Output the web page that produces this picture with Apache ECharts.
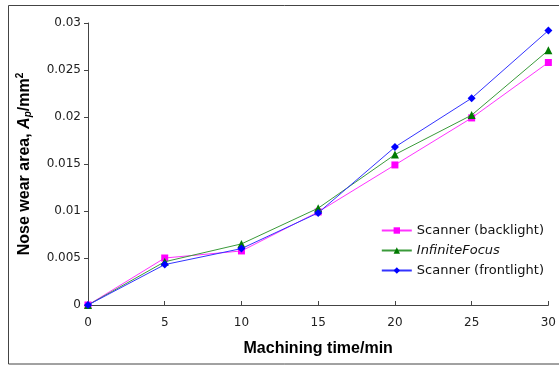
<!DOCTYPE html>
<html><head><meta charset="utf-8">
<script src="https://cdn.jsdelivr.net/npm/echarts@6/dist/echarts.min.js"></script>
<style>html,body{margin:0;padding:0;background:#fff}#c{width:559px;height:368px}</style>
</head><body><div id="c"></div>
<script>
var times = [0, 5, 10, 15, 20, 25, 30];
var backlight = [0, 0.0050, 0.00575, 0.0099, 0.0149, 0.0199, 0.0258];
var infiniteFocus = [0, 0.0046, 0.0065, 0.0103, 0.0160, 0.0202, 0.0271];
var frontlight = [0, 0.0043, 0.0060, 0.0098, 0.0168, 0.0220, 0.0292];
var seriesNames = ['Scanner (backlight)', 'InfiniteFocus', 'Scanner (frontlight)'];

function pairs(arr){ return times.map(function(t,i){ return [t, arr[i]]; }); }

var chart = echarts.init(document.getElementById('c'));
var font = 'Arial, "Liberation Sans", sans-serif';
var wide = '"DejaVu Sans", Arial, sans-serif';
chart.setOption({
  animation: false,
  backgroundColor: '#fff',
  graphic: [{
    type: 'rect', shape: {x: 8.5, y: 5.5, width: 560, height: 358.5},
    style: {fill: 'none', stroke: '#444', lineWidth: 1}, silent: true
  }],
  grid: {left: 88, right: 7, top: 23, bottom: 63},
  legend: {
    orient: 'vertical', right: 10, top: 219, itemGap: 7,
    itemWidth: 30, itemHeight: 8,
    textStyle: {fontFamily: wide, fontSize: 13, color: '#111'},
    data: [
      {name: seriesNames[0]},
      {name: seriesNames[1], textStyle: {fontStyle: 'italic'}},
      {name: seriesNames[2]}
    ]
  },
  xAxis: {
    type: 'value', min: 0, max: 30, interval: 5,
    name: 'Machining time/min', nameLocation: 'middle', nameGap: 36,
    nameTextStyle: {fontFamily: font, fontSize: 16, fontWeight: 'bold', color: '#000'},
    axisLine: {lineStyle: {color: '#444', width: 1}},
    axisTick: {inside: true, length: 4, lineStyle: {color: '#444'}},
    axisLabel: {fontFamily: wide, fontSize: 12, color: '#222', margin: 12},
    splitLine: {show: false}
  },
  yAxis: {
    type: 'value', min: 0, max: 0.03, interval: 0.005,
    name: '{n|Nose wear area, }{a|A}{s|p}{n|/mm}{sup|2}',
    nameLocation: 'middle', nameGap: 53, nameRotate: 90,
    nameTextStyle: {
      fontFamily: font, fontSize: 16, fontWeight: 'bold', color: '#000',
      rich: {
        n: {fontFamily: font, fontSize: 16, fontWeight: 'bold', color: '#000'},
        a: {fontFamily: font, fontSize: 16, fontWeight: 'bold', fontStyle: 'italic', color: '#000'},
        s: {fontFamily: font, fontSize: 10, fontWeight: 'bold', fontStyle: 'italic', color: '#000', padding: [6, 0, 0, 0]},
        sup: {fontFamily: font, fontSize: 10, fontWeight: 'bold', color: '#000', padding: [0, 0, 10, 0]}
      }
    },
    axisLine: {show: true, lineStyle: {color: '#444', width: 1}},
    axisTick: {show: true, length: 4, lineStyle: {color: '#444'}},
    axisLabel: {fontFamily: wide, fontSize: 12, color: '#222', margin: 7,
      formatter: function(v){ return String(+v.toFixed(3)); }},
    splitLine: {show: false}
  },
  series: [
    {name: seriesNames[0], type: 'line', data: pairs(backlight), symbol: 'rect', symbolSize: 7,
     itemStyle: {color: '#FF00FF'}, lineStyle: {color: '#FF33FF', width: 1}, z: 2},
    {name: seriesNames[1], type: 'line', data: pairs(infiniteFocus), symbol: 'triangle', symbolSize: 8,
     itemStyle: {color: '#007A00'}, lineStyle: {color: '#3A9A3A', width: 1}, z: 3},
    {name: seriesNames[2], type: 'line', data: pairs(frontlight), symbol: 'diamond', symbolSize: 8,
     itemStyle: {color: '#0000FF'}, lineStyle: {color: '#3333FF', width: 1}, z: 4}
  ]
});
</script></body></html>
